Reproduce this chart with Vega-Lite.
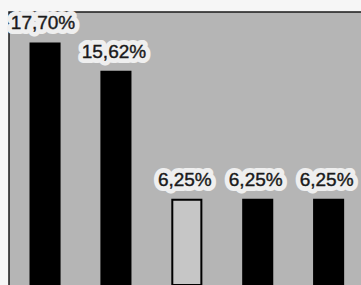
{
  "$schema": "https://vega.github.io/schema/vega-lite/v6.json",
  "width": 354,
  "height": 275,
  "autosize": {"type": "none"},
  "padding": {"left": 9, "top": 12, "right": 0, "bottom": 0},
  "background": "#f6f6f6",
  "config": {
    "view": {"fill": "#b5b5b5", "stroke": "#1a1a1a", "strokeWidth": 1.5}
  },
  "data": {
    "values": [
      {"cat": "1", "value": 17.70, "label": "17,70%"},
      {"cat": "2", "value": 15.62, "label": "15,62%"},
      {"cat": "3", "value": 6.25, "label": "6,25%"},
      {"cat": "4", "value": 6.25, "label": "6,25%"},
      {"cat": "5", "value": 6.25, "label": "6,25%"}
    ]
  },
  "encoding": {
    "x": {"field": "cat", "type": "nominal", "axis": null,
      "scale": {"paddingInner": 0.59, "paddingOuter": 0.2917, "align": 0.52}},
    "y": {"field": "value", "type": "quantitative", "axis": null,
      "scale": {"domain": [0, 20], "range": [273, 0], "nice": false, "zero": true}}
  },
  "layer": [
    {
      "mark": {"type": "bar", "stroke": "#000", "strokeWidth": 2},
      "encoding": {
        "fill": {"condition": {"test": "datum.cat === '3'", "value": "#c6c6c6"}, "value": "#000"}
      }
    },
    {
      "mark": {"type": "text", "baseline": "alphabetic", "dy": -14, "dx": -2, "font": "Liberation Sans", "fontSize": 19, "fill": "#efefef", "stroke": "#efefef", "strokeWidth": 10, "strokeJoin": "round"},
      "encoding": {"text": {"field": "label"}}
    },
    {
      "mark": {"type": "text", "baseline": "alphabetic", "dy": -14, "dx": -2, "font": "Liberation Sans", "fontSize": 19, "fill": "#1a1a1a", "stroke": "#1a1a1a", "strokeWidth": 0.4},
      "encoding": {"text": {"field": "label"}}
    }
  ]
}
